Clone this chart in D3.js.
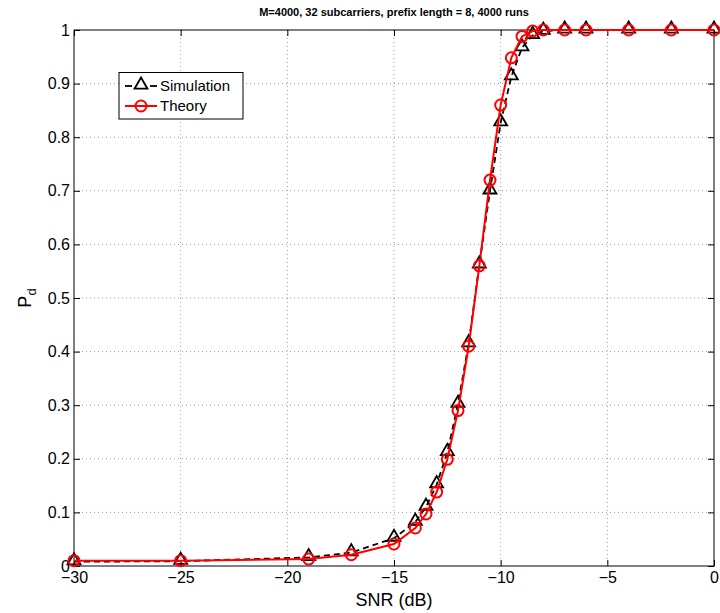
<!DOCTYPE html>
<html>
<head>
<meta charset="utf-8">
<script src="https://d3js.org/d3.v7.min.js"></script>
<style>
  body { margin: 0; background: #fff; }
  text { font-family: "Liberation Sans", Arial, sans-serif; }
</style>
</head>
<body>
<svg id="chart" width="720" height="613"></svg>
<script>
// SNR points (dB)
var snr = [-30, -25, -19, -17, -15, -14, -13.5, -13, -12.5, -12, -11.5, -11, -10.5, -10, -9.5, -9, -8.5, -8, -7, -6, -4, -2, 0];
var simulation = [0.008, 0.009, 0.016, 0.025, 0.052, 0.082, 0.11, 0.152, 0.212, 0.302, 0.415, 0.562, 0.7, 0.827, 0.913, 0.967, 0.99, 0.998, 1, 1, 1, 1, 1];
var theory = [0.01, 0.01, 0.013, 0.021, 0.041, 0.071, 0.097, 0.138, 0.199, 0.29, 0.41, 0.56, 0.72, 0.86, 0.948, 0.988, 0.998, 1, 1, 1, 1, 1, 1];
var xTicks = [-30, -25, -20, -15, -10, -5, 0];
var yTicks = [0, 0.1, 0.2, 0.3, 0.4, 0.5, 0.6, 0.7, 0.8, 0.9, 1];

var svg = d3.select("#chart"),
    plotLeft = 74, plotRight = 714, plotTop = 30, plotBottom = 566,
    tickLen = 6;

var x = d3.scaleLinear().domain([-30, 0]).range([plotLeft, plotRight]),
    y = d3.scaleLinear().domain([0, 1]).range([plotBottom, plotTop]);

// grid
var grid = svg.append("g").attr("stroke", "#555").attr("stroke-width", 0.6)
    .attr("stroke-dasharray", "1,3");
xTicks.slice(1, -1).forEach(function(t) {
    grid.append("line").attr("x1", x(t)).attr("x2", x(t)).attr("y1", plotTop).attr("y2", plotBottom);
});
yTicks.slice(1, -1).forEach(function(t) {
    grid.append("line").attr("x1", plotLeft).attr("x2", plotRight).attr("y1", y(t)).attr("y2", y(t));
});

// axes (ticks inward, MATLAB style)
var xAxis = d3.axisBottom(x).tickValues(xTicks).tickSizeInner(-tickLen).tickSizeOuter(0)
    .tickPadding(6).tickFormat(function(d) { return d < 0 ? "\u2212" + Math.abs(d) : d; });
var yAxis = d3.axisLeft(y).tickValues(yTicks).tickSizeInner(-tickLen).tickSizeOuter(0)
    .tickPadding(4).tickFormat(function(d) { return d; });

var gx = svg.append("g").attr("transform", "translate(0," + plotBottom + ")").call(xAxis);
var gy = svg.append("g").attr("transform", "translate(" + plotLeft + ",0)").call(yAxis);
[gx, gy].forEach(function(g) {
    g.select(".domain").remove();
    g.selectAll("line").attr("stroke", "#000");
    g.selectAll("text").attr("font-size", 16).attr("fill", "#000");
});

// top and right ticks
var gt = svg.append("g").attr("transform", "translate(0," + plotTop + ")")
    .call(d3.axisTop(x).tickValues(xTicks).tickSizeInner(-tickLen).tickSizeOuter(0).tickFormat(""));
var gr = svg.append("g").attr("transform", "translate(" + plotRight + ",0)")
    .call(d3.axisRight(y).tickValues(yTicks).tickSizeInner(-tickLen).tickSizeOuter(0).tickFormat(""));
[gt, gr].forEach(function(g) {
    g.select(".domain").remove();
    g.selectAll("line").attr("stroke", "#000");
});

// frame
svg.append("rect").attr("x", plotLeft).attr("y", plotTop)
    .attr("width", plotRight - plotLeft).attr("height", plotBottom - plotTop)
    .attr("fill", "none").attr("stroke", "#000").attr("stroke-width", 1);

// series
var simData = snr.map(function(s, i) { return [s, simulation[i]]; });
var theoryData = snr.map(function(s, i) { return [s, theory[i]]; });
var line = d3.line().x(function(d) { return x(d[0]); }).y(function(d) { return y(d[1]); });

var tri = d3.symbol().type(d3.symbolTriangle).size(72);

svg.append("path").datum(simData).attr("d", line)
    .attr("fill", "none").attr("stroke", "#000").attr("stroke-width", 1.8)
    .attr("stroke-dasharray", "6,4");
svg.append("g").selectAll("path").data(simData).enter().append("path")
    .attr("d", tri)
    .attr("transform", function(d) { return "translate(" + x(d[0]) + "," + (y(d[1]) - 1) + ")"; })
    .attr("fill", "none").attr("stroke", "#000").attr("stroke-width", 1.8);

svg.append("path").datum(theoryData).attr("d", line)
    .attr("fill", "none").attr("stroke", "#f00").attr("stroke-width", 2);
svg.append("g").selectAll("circle").data(theoryData).enter().append("circle")
    .attr("cx", function(d) { return x(d[0]); })
    .attr("cy", function(d) { return y(d[1]); })
    .attr("r", 5.5)
    .attr("fill", "none").attr("stroke", "#f00").attr("stroke-width", 2);

// title and labels
svg.append("text").attr("x", (plotLeft + plotRight) / 2).attr("y", 16)
    .attr("text-anchor", "middle").attr("font-size", 11).attr("font-weight", "bold")
    .text("M=4000, 32 subcarriers, prefix length = 8, 4000 runs");

svg.append("text").attr("x", (plotLeft + plotRight) / 2).attr("y", 606)
    .attr("text-anchor", "middle").attr("font-size", 18).text("SNR (dB)");

var yl = svg.append("text").attr("transform", "translate(31," + ((plotTop + plotBottom) / 2) + ") rotate(-90)")
    .attr("text-anchor", "middle").attr("font-size", 18);
yl.append("tspan").text("P");
yl.append("tspan").attr("font-size", 13).attr("dy", 5).text("d");

// legend
var lg = svg.append("g");
lg.append("rect").attr("x", 119).attr("y", 72.5).attr("width", 124).attr("height", 46.5)
    .attr("fill", "#fff").attr("stroke", "#000").attr("stroke-width", 1);
var legendItems = [
    {name: "Simulation", color: "#000", mark: "tri", y: 86},
    {name: "Theory", color: "#f00", mark: "circle", y: 106}
];
legendItems.forEach(function(it) {
    if (it.mark === "tri") {
        [[125, 132], [150, 157]].forEach(function(seg) {
            lg.append("line").attr("x1", seg[0]).attr("x2", seg[1]).attr("y1", it.y).attr("y2", it.y)
                .attr("stroke", it.color).attr("stroke-width", 1.8);
        });
        lg.append("path").attr("d", tri).attr("transform", "translate(141," + (it.y - 1) + ")")
            .attr("fill", "none").attr("stroke", it.color).attr("stroke-width", 1.8);
    } else {
        lg.append("line").attr("x1", 125).attr("x2", 157).attr("y1", it.y).attr("y2", it.y)
            .attr("stroke", it.color).attr("stroke-width", 2);
        lg.append("circle").attr("cx", 141).attr("cy", it.y).attr("r", 5.5)
            .attr("fill", "none").attr("stroke", it.color).attr("stroke-width", 2);
    }
    lg.append("text").attr("x", 160).attr("y", it.y).attr("dy", "0.36em")
        .attr("font-size", 15).text(it.name);
});
</script>
</body>
</html>
